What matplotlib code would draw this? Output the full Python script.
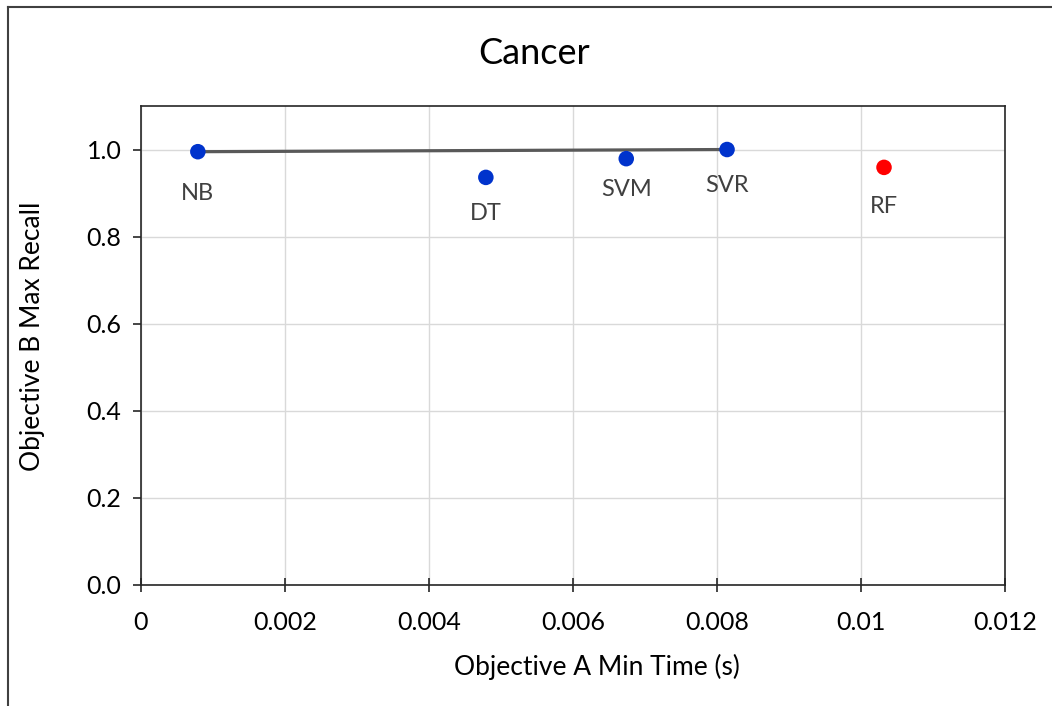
import matplotlib
matplotlib.use("Agg")
import matplotlib.pyplot as plt
from matplotlib.lines import Line2D

plt.rcParams['font.family'] = ['Lato', 'DejaVu Sans']

# Data
models = ["NB", "DT", "SVM", "SVR", "RF"]
time_s = [0.00079, 0.00479, 0.00674, 0.00814, 0.01032]
recall = [0.995, 0.936, 0.979, 1.000, 0.959]
colors = ["#0033CC", "#0033CC", "#0033CC", "#0033CC", "#FF0000"]
pareto_models = ["NB", "SVR"]
x_ticks = [0, 0.002, 0.004, 0.006, 0.008, 0.01, 0.012]
x_tick_labels = ["0", "0.002", "0.004", "0.006", "0.008", "0.01", "0.012"]
y_ticks = [0.0, 0.2, 0.4, 0.6, 0.8, 1.0]
y_tick_labels = ["0.0", "0.2", "0.4", "0.6", "0.8", "1.0"]

label_offsets = {"NB": (0, -30), "DT": (0, -26), "SVM": (0, -22), "SVR": (0, -26), "RF": (0, -28)}

fig = plt.figure(figsize=(10.52, 7.06), dpi=100)
ax = fig.add_axes([0.134, 0.1714, 0.8213, 0.6785])

ax.set_xlim(0, 0.012)
ax.set_ylim(0, 1.1)
ax.set_xticks(x_ticks)
ax.set_xticklabels(x_tick_labels)
ax.set_yticks(y_ticks)
ax.set_yticklabels(y_tick_labels)

ax.grid(True, color="#d9d9d9", linewidth=1.0)
ax.set_axisbelow(True)

px = [time_s[models.index(m)] for m in pareto_models]
py = [recall[models.index(m)] for m in pareto_models]
ax.plot(px, py, color="#595959", linewidth=2.3, zorder=2)

ax.scatter(time_s, recall, s=125, c=colors, zorder=3, linewidths=0)

for m, x, y in zip(models, time_s, recall):
    ax.annotate(m, (x, y), xytext=label_offsets[m], textcoords="offset points",
                ha="center", va="center", fontsize=17, color="#404040")

for sp in ax.spines.values():
    sp.set_color("#262626")
    sp.set_linewidth(1.2)

ax.tick_params(axis="x", direction="inout", length=10, width=1.2, color="#262626",
               labelsize=18, pad=14)
ax.tick_params(axis="y", direction="out", length=6, width=1.2, color="#262626",
               labelsize=18, pad=8)

ax.set_xlabel("Objective A Min Time (s)", fontsize=19, va="center")
ax.set_ylabel("Objective B Max Recall", fontsize=19, va="center")
ax.xaxis.set_label_coords(0.528, -0.171)
ax.yaxis.set_label_coords(-0.125, 0.52)
fig.text(0.508, 0.924, "Cancer", ha="center", va="center", fontsize=26)

# figure border (left and top edges visible)
fig.add_artist(Line2D([8/1052, 8/1052], [0, 1 - 7/706], transform=fig.transFigure,
                      color="#404040", linewidth=1.5))
fig.add_artist(Line2D([8/1052, 1], [1 - 7/706, 1 - 7/706], transform=fig.transFigure,
                      color="#404040", linewidth=1.5))

fig.savefig("out.png", dpi=100)
